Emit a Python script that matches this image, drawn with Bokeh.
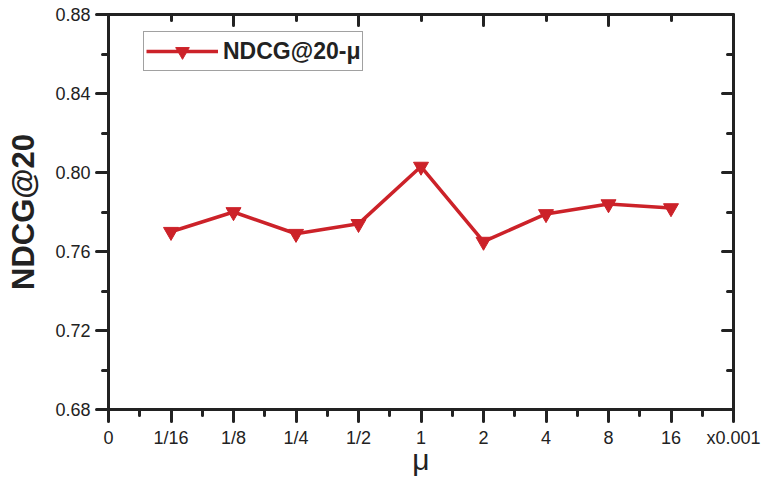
from bokeh.plotting import figure
from bokeh.models import (FixedTicker, LinearAxis, Legend, LegendItem,
                          Range1d, NumeralTickFormatter)
from bokeh.embed import file_html
from bokeh.resources import INLINE

# ---- data ----
mu_labels = ["1/16", "1/8", "1/4", "1/2", "1", "2", "4", "8", "16"]
ndcg20 = [0.770, 0.780, 0.769, 0.774, 0.803, 0.765, 0.779, 0.784, 0.782]
x_tick_labels = ["0"] + mu_labels + ["x0.001"]
y_major = [0.68, 0.72, 0.76, 0.80, 0.84, 0.88]
y_minor = [0.70, 0.74, 0.78, 0.82, 0.86]
series_name = "NDCG@20-\u03bc"
x_title = "\u03bc"
y_title = "NDCG@20"

xs = list(range(1, len(mu_labels) + 1))
n_slots = len(x_tick_labels) - 1  # ticks 0..10

RED = "#cc2229"
INK = "#222222"
FONT = "Liberation Sans"

p = figure(width=764, height=479,
           x_range=Range1d(0, n_slots), y_range=Range1d(y_major[0], y_major[-1]),
           output_backend="svg", toolbar_location=None,
           min_border_left=108, min_border_right=31,
           min_border_top=14, min_border_bottom=70)
p.grid.visible = False
p.outline_line_color = INK
p.outline_line_width = 3
p.background_fill_color = "white"
p.border_fill_color = "white"

# bottom axis
xa = p.xaxis[0]
xa.ticker = FixedTicker(ticks=list(range(0, n_slots + 1)),
                        minor_ticks=[i + 0.5 for i in range(n_slots)])
xa.major_label_overrides = {i: lab for i, lab in enumerate(x_tick_labels)}
xa.axis_label = x_title
xa.axis_label_text_font = FONT
xa.axis_label_text_font_style = "normal"
xa.axis_label_text_font_size = "30px"
xa.axis_label_text_color = INK
xa.axis_label_standoff = -8

# left axis
ya = p.yaxis[0]
ya.ticker = FixedTicker(ticks=y_major, minor_ticks=y_minor)
ya.formatter = NumeralTickFormatter(format="0.00")
ya.axis_label = y_title
ya.axis_label_text_font = FONT
ya.axis_label_text_font_style = "bold"
ya.axis_label_text_font_size = "31px"
ya.axis_label_text_color = INK
ya.axis_label_standoff = 11

for ax in (xa, ya):
    ax.axis_line_width = 3
    ax.axis_line_color = INK
    ax.major_tick_line_width = 3
    ax.minor_tick_line_width = 3
    ax.major_tick_line_color = INK
    ax.minor_tick_line_color = INK
    ax.major_tick_line_cap = "round"
    ax.minor_tick_line_cap = "round"
    ax.major_tick_out = 12
    ax.major_tick_in = 0
    ax.minor_tick_out = 6
    ax.minor_tick_in = 0
    ax.major_label_text_font = FONT
    ax.major_label_text_font_size = "18px"
    ax.major_label_text_color = INK
xa.major_label_standoff = 6
ya.major_label_standoff = 6

# top and right axes (inward ticks, no labels)
top_ticks = list(range(0, n_slots + 1, 2))
top = LinearAxis(ticker=FixedTicker(ticks=top_ticks,
                                    minor_ticks=list(range(1, n_slots, 2))))
top.major_label_overrides = {t: "" for t in top_ticks}
right = LinearAxis(ticker=FixedTicker(ticks=y_major, minor_ticks=y_minor))
right.major_label_overrides = {t: "" for t in y_major}
for ax in (top, right):
    ax.axis_line_width = 3
    ax.axis_line_color = INK
    ax.major_tick_line_width = 3
    ax.minor_tick_line_width = 3
    ax.major_tick_line_color = INK
    ax.minor_tick_line_color = INK
    ax.major_tick_line_cap = "round"
    ax.minor_tick_line_cap = "round"
    ax.major_tick_in = 11
    ax.major_tick_out = 0
    ax.minor_tick_in = 6
    ax.minor_tick_out = 0
    ax.major_label_text_font_size = "1px"
    ax.major_label_standoff = 0
p.add_layout(top, "above")
p.add_layout(right, "right")

# data
r_line = p.line(xs, ndcg20, line_color=RED, line_width=3.5)
r_pts = p.scatter(xs, ndcg20, marker="inverted_triangle", size=15,
                  fill_color=RED, line_color=RED)

legend = Legend(items=[LegendItem(label=series_name, renderers=[r_line, r_pts])],
                location=(35, 338), padding=2, glyph_width=72, glyph_height=34,
                label_standoff=5, label_text_font=FONT,
                label_text_font_style="bold", label_text_font_size="23px",
                label_text_color=INK, border_line_color="#444444",
                border_line_width=1, background_fill_color="white",
                background_fill_alpha=1.0, margin=0)
p.add_layout(legend)

open("out.html", "w").write(file_html(p, INLINE))
